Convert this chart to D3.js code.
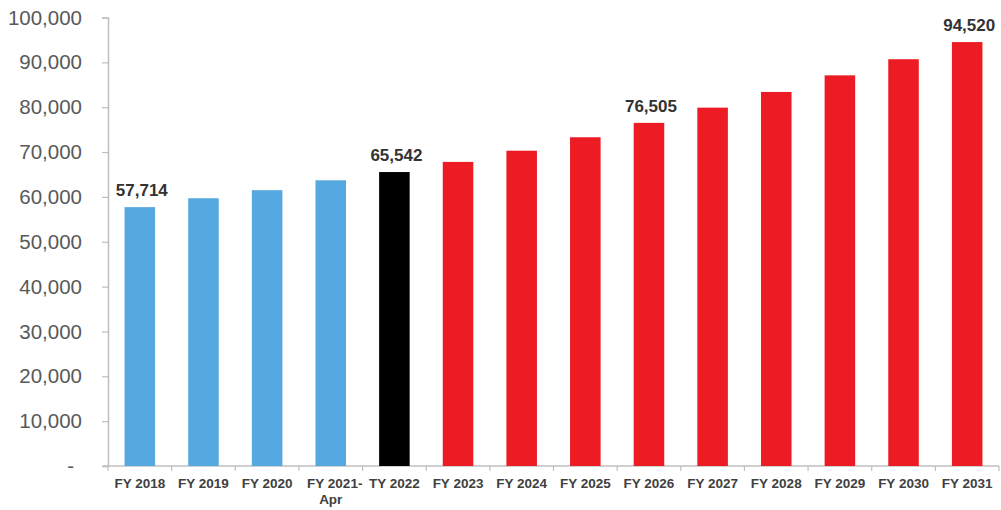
<!DOCTYPE html>
<html>
<head>
<meta charset="utf-8">
<script src="https://cdn.jsdelivr.net/npm/d3@7"></script>
<style>
  body { margin: 0; background: #fff; }
  svg { display: block; }
</style>
</head>
<body>
<svg width="1001" height="510"></svg>
<script>
// dati
let categories = ["FY 2018", "FY 2019", "FY 2020", "FY 2021-\nApr", "TY 2022", "FY 2023", "FY 2024",
  "FY 2025", "FY 2026", "FY 2027", "FY 2028", "FY 2029", "FY 2030", "FY 2031"];
let values = [57714, 59700, 61500, 63700, 65542, 67800, 70300, 73300, 76505, 79900, 83400, 87100, 90700, 94520];
let groups = ["actual", "actual", "actual", "actual", "current", "forecast", "forecast",
  "forecast", "forecast", "forecast", "forecast", "forecast", "forecast", "forecast"];
let labelled = ["FY 2018", "TY 2022", "FY 2026", "FY 2031"];
let yTicks = [0, 10000, 20000, 30000, 40000, 50000, 60000, 70000, 80000, 90000, 100000];

let colors = { actual: "#55A8E0", current: "#000000", forecast: "#ED1C24" };

let svg = d3.select("svg");
let mLeft = 108, mRight = 999, mTop = 17.5, mBottom = 466;

let x = d3.scaleBand().domain(categories).range([mLeft, mRight]).paddingInner(0.52).paddingOuter(0.26);
let y = d3.scaleLinear().domain([0, 100000]).range([mBottom, mTop]);

let rows = categories.map((c, i) => ({ cat: c, value: values[i], group: groups[i] }));

// y ass
let yAxis = svg.append("g")
  .attr("transform", `translate(${mLeft},0)`)
  .call(d3.axisLeft(y).tickValues(yTicks).tickSize(6).tickPadding(20)
    .tickFormat((d) => (d === 0 ? "-" : d3.format(",")(d))));
yAxis.select(".domain").attr("stroke", "#BFBFBF").attr("stroke-width", 1.5);
yAxis.selectAll(".tick line").attr("stroke", "#BFBFBF").attr("stroke-width", 1.2);
yAxis.selectAll(".tick text")
  .attr("fill", "#595959")
  .style("font-family", "'Liberation Sans', Arial, sans-serif")
  .style("font-size", "20.5px")
  .attr("x", (d) => (d === 0 ? -34 : -26));

// x ass
let step = x.step();
let xg = svg.append("g").attr("transform", `translate(0,${mBottom})`);
xg.append("line")
  .attr("x1", mLeft - 5).attr("x2", mRight)
  .attr("stroke", "#BFBFBF").attr("stroke-width", 1.5);
xg.selectAll(".sep")
  .data(d3.range(categories.length + 1))
  .enter()
  .append("line")
  .attr("x1", (i) => mLeft + i * step)
  .attr("x2", (i) => mLeft + i * step)
  .attr("y1", 0).attr("y2", 5)
  .attr("stroke", "#BFBFBF").attr("stroke-width", 1.2);

let xLabels = xg.selectAll(".xl")
  .data(categories)
  .enter()
  .append("text")
  .attr("text-anchor", "middle")
  .attr("fill", "#404040")
  .style("font-family", "'Liberation Sans', Arial, sans-serif")
  .style("font-size", "13.5px")
  .style("font-weight", "bold");
xLabels.each(function (d) {
  let lines = d.split("\n");
  let t = d3.select(this);
  lines.forEach((ln, k) => {
    t.append("tspan")
      .attr("x", x(d) + x.bandwidth() / 2 + (k === 0 && lines.length > 1 ? 4 : 0))
      .attr("y", 21.5 + k * 16.5)
      .text(ln);
  });
});

// stabiņi
svg.append("g")
  .selectAll("rect")
  .data(rows)
  .enter()
  .append("rect")
  .attr("x", (d) => x(d.cat))
  .attr("width", x.bandwidth())
  .attr("y", (d) => y(d.value))
  .attr("height", (d) => y(0) - y(d.value))
  .attr("fill", (d) => colors[d.group]);

// vērtību etiķetes
svg.append("g")
  .selectAll("text")
  .data(rows.filter((d) => labelled.includes(d.cat)))
  .enter()
  .append("text")
  .attr("x", (d) => x(d.cat) + x.bandwidth() / 2 + 2)
  .attr("y", (d) => y(d.value) - 11)
  .attr("text-anchor", "middle")
  .attr("fill", "#333333")
  .style("font-family", "'Liberation Sans', Arial, sans-serif")
  .style("font-size", "17px")
  .style("font-weight", "bold")
  .text((d) => d3.format(",")(d.value));
</script>
</body>
</html>
